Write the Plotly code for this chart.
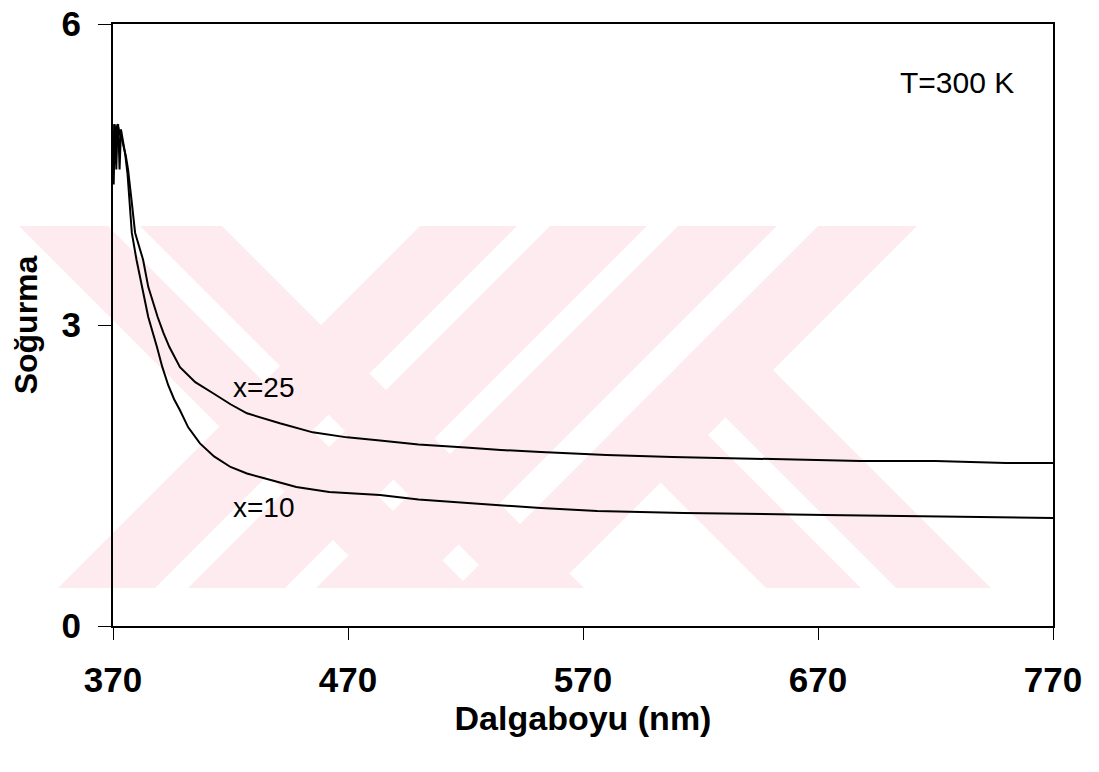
import plotly.graph_objects as go

# Absorption spectra (wavelength in nm, absorbance) for two compositions
lam_x25 = [370.2, 370.5, 371.0, 371.4, 371.9, 372.4, 373.0, 373.8, 374.6, 375.5,
           376.4, 377.2, 378.0, 379.4, 381.0, 382.8, 385.0, 387.0, 389.0, 391.5,
           394.0, 398.5, 405.0, 412.6, 420.0, 427.0, 434.0, 441.0, 455.0, 469.6,
           483.6, 500.0, 520.0, 535.0, 552.0, 580.0, 608.0, 647.0, 688.0, 720.0,
           750.0, 770.0]
abs_x25 = [4.50, 5.00, 4.95, 4.55, 5.00, 4.95, 4.90, 4.85, 4.78, 4.68,
           4.55, 4.40, 4.22, 3.92, 3.80, 3.65, 3.38, 3.22, 3.08, 2.92,
           2.78, 2.58, 2.43, 2.32, 2.21, 2.12, 2.07, 2.02, 1.93, 1.88,
           1.85, 1.81, 1.78, 1.755, 1.735, 1.705, 1.685, 1.668, 1.645, 1.645,
           1.625, 1.625]

lam_x10 = [370.3, 370.7, 371.2, 371.7, 372.2, 372.8, 373.4, 374.2, 375.2, 376.2,
           377.0, 378.0, 380.0, 382.3, 385.0, 388.7, 391.0, 393.5, 396.0, 398.5,
           402.0, 407.0, 413.0, 420.0, 427.0, 434.0, 448.0, 462.0, 483.6, 500.0,
           520.0, 538.0, 552.0, 576.0, 613.0, 673.0, 720.0, 735.0, 770.0]
abs_x10 = [4.40, 5.00, 4.60, 4.98, 5.00, 4.55, 4.95, 4.85, 4.70, 4.50,
           4.25, 3.92, 3.65, 3.38, 3.08, 2.78, 2.58, 2.40, 2.26, 2.15,
           1.98, 1.82, 1.69, 1.585, 1.52, 1.475, 1.385, 1.335, 1.305, 1.26,
           1.23, 1.196, 1.176, 1.147, 1.127, 1.107, 1.09, 1.085, 1.077]

x_ticks = [370, 470, 570, 670, 770]
y_ticks = [0, 3, 6]

W, H = 1099, 772
L, R, T, B = 113, 46, 24, 146
PW, PH = W - L - R, H - T - B
FONT = "Liberation Sans, Arial, sans-serif"

fig = go.Figure()
for lam, ab in ((lam_x25, abs_x25), (lam_x10, abs_x10)):
    fig.add_trace(go.Scatter(x=lam, y=ab, mode="lines",
                             line=dict(color="black", width=2),
                             showlegend=False, hoverinfo="skip"))

# faint pink logo in the background, built from 45-degree bands (pixel geometry)
def px(x):
    return (x - L) / PW

def py(y):
    return (H - B - y) / PH

def poly(points):
    d = "M " + " L ".join(f"{px(x):.5f},{py(y):.5f}" for x, y in points) + " Z"
    return dict(type="path", path=d, xref="paper", yref="paper",
                fillcolor="#fdebef", line=dict(width=0), layer="below")

Y0, Y1 = 226, 588
D = Y1 - Y0
shapes = []
# bands falling to the right (left letter)
for a, b in ((19, 108), (140, 222)):
    shapes.append(poly([(a, Y0), (b, Y0), (b + D, Y1), (a + D, Y1)]))
# bands falling to the left
for a, b in ((420, 517), (550, 647), (678, 777), (818, 917)):
    shapes.append(poly([(a, Y0), (b, Y0), (b - D, Y1), (a - D, Y1)]))
# two legs of the K, starting from the last band's left edge (x = 1044 - y)
for lo, hi in ((178, 273), (308, 403)):
    ya = (1044 - lo) / 2
    yb = (1044 - hi) / 2
    shapes.append(poly([(ya + lo, ya), (yb + hi, yb), (Y1 + hi, Y1), (Y1 + lo, Y1)]))

fig.update_layout(
    width=W, height=H,
    margin=dict(l=L, r=R, t=T, b=B, autoexpand=False),
    paper_bgcolor="white", plot_bgcolor="rgba(0,0,0,0)",
    font=dict(family=FONT, color="black"),
    shapes=shapes,
    xaxis=dict(range=[370, 770], tickvals=x_ticks,
               ticktext=[f"<b>{v}</b>" for v in x_ticks],
               ticks="outside", ticklen=12, tickwidth=1, tickcolor="black",
               showline=True, linecolor="black", linewidth=2, mirror=True,
               showgrid=False, zeroline=False, ticklabelstandoff=10,
               tickfont=dict(size=35, family=FONT, color="black"),
               title=dict(text="<b>Dalgaboyu (nm)</b>", standoff=8,
                          font=dict(size=34, family=FONT, color="black"))),
    yaxis=dict(range=[0, 6], tickvals=y_ticks,
               ticktext=[f"<b>{v}</b>" for v in y_ticks],
               ticks="outside", ticklen=13, tickwidth=1, tickcolor="black",
               showline=True, linecolor="black", linewidth=2, mirror=True,
               showgrid=False, zeroline=False, ticklabelstandoff=10,
               tickfont=dict(size=35, family=FONT, color="black"),
               title=dict(text="<b>Soğurma</b>", standoff=14,
                          font=dict(size=32, family=FONT, color="black"))),
    annotations=[
        dict(x=729, y=5.42, xref="x", yref="y", text="T=300 K", showarrow=False,
             font=dict(size=30, family=FONT, color="black")),
        dict(x=434.3, y=2.38, xref="x", yref="y", text="x=25", showarrow=False,
             font=dict(size=28, family=FONT, color="black")),
        dict(x=434.3, y=1.18, xref="x", yref="y", text="x=10", showarrow=False,
             font=dict(size=28, family=FONT, color="black")),
    ],
)

fig.write_html("out.html")
